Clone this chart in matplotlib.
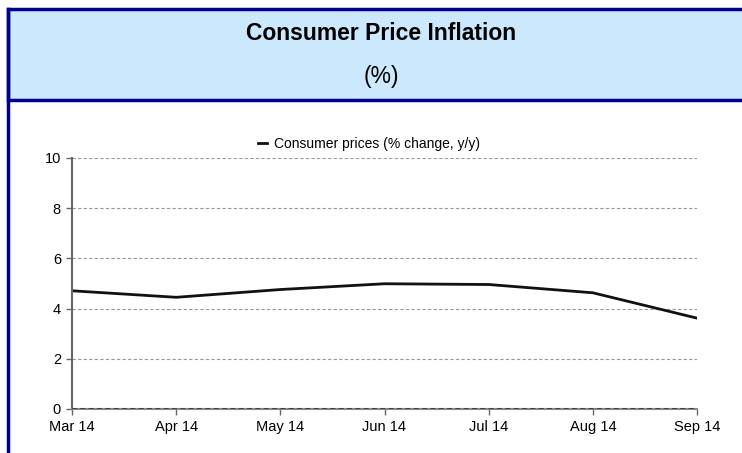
import matplotlib.pyplot as plt
from matplotlib.patches import Rectangle
from matplotlib.lines import Line2D

months = ["Mar 14", "Apr 14", "May 14", "Jun 14", "Jul 14", "Aug 14", "Sep 14"]
cpi = [4.71, 4.45, 4.76, 4.99, 4.96, 4.63, 3.62]
yticks = [0, 2, 4, 6, 8, 10]

plt.rcParams["font.family"] = ["Liberation Sans", "DejaVu Sans"]

fig = plt.figure(figsize=(7.42, 4.53), dpi=100)
W, H = 742, 453

# header box
fig.patches.append(Rectangle((8 / W, 1 - 100 / H), 1.1, 91 / H, transform=fig.transFigure,
                             facecolor="#cce8fc", edgecolor="#00008b", linewidth=2.5, zorder=0))
fig.add_artist(Line2D([8 / W, 8 / W], [0, 1 - 9 / H], transform=fig.transFigure,
                      color="#00008b", linewidth=2.5))
fig.text(381 / W, 1 - 34 / H, "Consumer Price Inflation", ha="center", va="center",
         fontsize=16.5, fontweight="bold")
fig.text(381 / W, 1 - 76 / H, "(%)", ha="center", va="center", fontsize=16.5)

ax = fig.add_axes([72 / W, 1 - 409 / H, 625 / W, 251 / H])
x = range(len(months))
ax.plot(x, cpi, color="#111111", linewidth=2, label="Consumer prices (% change, y/y)")
ax.set_xlim(0, len(months) - 1)
ax.set_ylim(0, 10)
ax.set_xticks(list(x))
ax.set_xticklabels(months)
ax.set_yticks(yticks)
for yv in yticks[1:]:
    ax.axhline(yv, color="#999999", linestyle=(0, (3, 2)), linewidth=0.8, zorder=0)
ax.axhline(0, color="#333333", linestyle=(0, (3, 2)), linewidth=1.2, zorder=3)
for s in ["top", "right"]:
    ax.spines[s].set_visible(False)
ax.spines["left"].set_color("#666666")
ax.spines["bottom"].set_color("#888888")
ax.spines["left"].set_linewidth(1.5)
ax.spines["bottom"].set_linewidth(1.5)
ax.tick_params(axis="both", labelsize=10.5, colors="#000000", length=4, width=1, pad=4)
ax.tick_params(axis="both", color="#666666")
ax.legend(loc="lower center", bbox_to_anchor=(0.475, 1.0), frameon=False, fontsize=10,
          handlelength=0.7, handletextpad=0.5, borderaxespad=0.1)

fig.savefig("out.png", dpi=100)
